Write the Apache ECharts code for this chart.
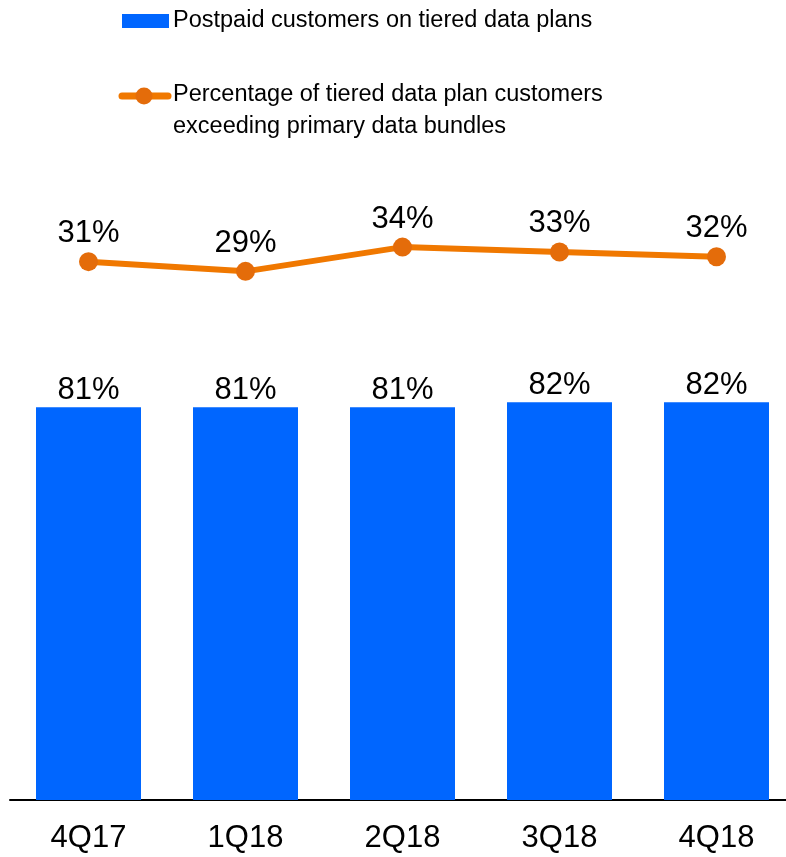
<!DOCTYPE html>
<html>
<head>
<meta charset="utf-8">
<script src="https://cdn.jsdelivr.net/npm/echarts@6/dist/echarts.min.js"></script>
<style>
html,body{margin:0;padding:0;background:#fff;overflow:hidden;width:786px;height:857px;}
#chart{width:795px;height:857px;}
</style>
</head>
<body>
<div id="chart"></div>
<script>
var categories = ['4Q17', '1Q18', '2Q18', '3Q18', '4Q18'];
var postpaidTiered = [81, 81, 81, 82, 82];
var exceedingPct = [31, 29, 34, 33, 32];
var legendBar = 'Postpaid customers on tiered data plans';
var legendLine = 'Percentage of tiered data plan customers\nexceeding primary data bundles';

var FONT = '"Liberation Sans", Arial, sans-serif';
var BLUE = '#0066FF';
var ORANGE = '#F07800';
var ORANGE_DARK = '#E46C0A';

var chart = echarts.init(document.getElementById('chart'));
chart.setOption({
  backgroundColor: '#fff',
  animation: false,
  textStyle: { fontFamily: FONT },
  grid: { left: 10, right: 0, top: 218, bottom: 57, containLabel: false },
  xAxis: {
    type: 'category',
    data: categories,
    axisTick: { show: false },
    axisLine: { lineStyle: { color: '#000', width: 2 } },
    axisLabel: { fontSize: 31, color: '#000', margin: 23, fontFamily: FONT }
  },
  yAxis: [
    { type: 'value', min: 0, max: 120, show: false },
    { type: 'value', min: -80, max: 40, show: false }
  ],
  series: [
    {
      name: legendBar,
      type: 'bar',
      data: postpaidTiered,
      barWidth: 105,
      itemStyle: { color: BLUE },
      label: {
        show: true, position: 'top', distance: 1,
        formatter: '{c}%', fontSize: 31, color: '#000', fontFamily: FONT
      }
    },
    {
      name: 'exceeding',
      type: 'line',
      yAxisIndex: 1,
      data: exceedingPct,
      symbol: 'circle',
      symbolSize: 19,
      clip: false,
      lineStyle: { color: ORANGE, width: 6 },
      itemStyle: { color: ORANGE_DARK },
      label: {
        show: true, position: 'top', distance: 3,
        formatter: '{c}%', fontSize: 31, color: '#000', fontFamily: FONT
      }
    }
  ],
  graphic: [
    { type: 'rect', shape: { x: 122, y: 14, width: 47, height: 14 }, style: { fill: BLUE } },
    { type: 'text', x: 173, y: 21, style: { text: legendBar, font: '23.5px ' + FONT, fill: '#000', verticalAlign: 'middle' } },
    { type: 'line', shape: { x1: 122, y1: 96, x2: 168, y2: 96 }, style: { stroke: ORANGE, lineWidth: 7, lineCap: 'round' } },
    { type: 'circle', shape: { cx: 144, cy: 96, r: 8.5 }, style: { fill: ORANGE_DARK } },
    { type: 'text', x: 173, y: 111, style: { text: legendLine, font: '23.5px ' + FONT, lineHeight: 32, fill: '#000', verticalAlign: 'middle' } }
  ]
});
</script>
</body>
</html>
